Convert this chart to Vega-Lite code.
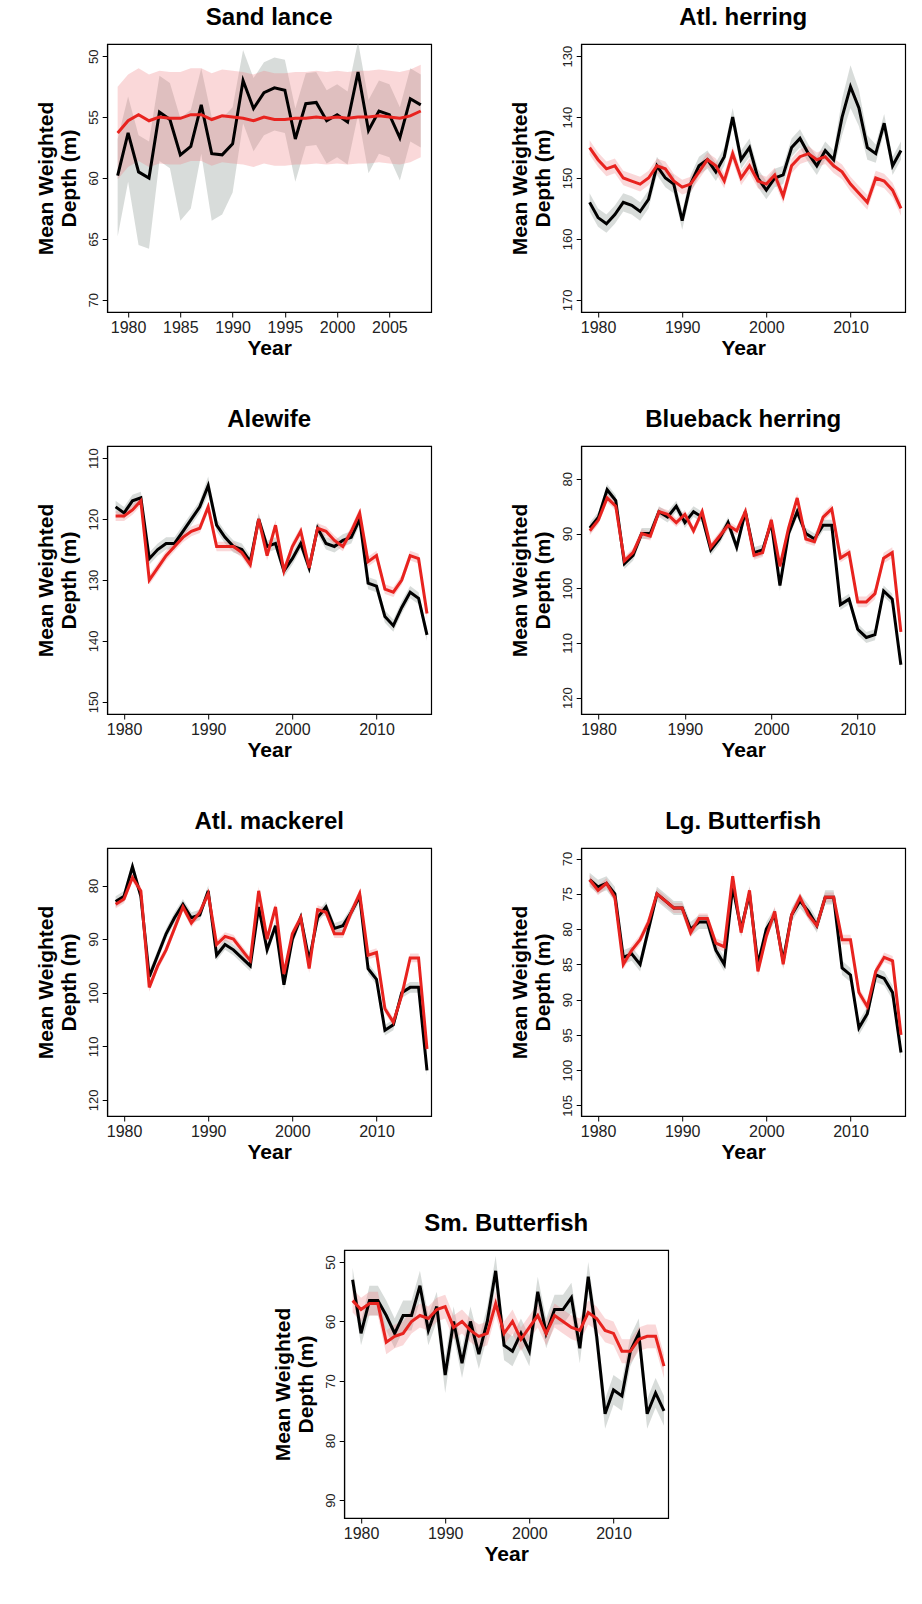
{
  "$schema": "https://vega.github.io/schema/vega-lite/v6.json",
  "padding": {"left": 34, "top": 5, "right": 5, "bottom": 5},
  "datasets": {
    "d": [
      {"s":"SL","y":1979,"b":59.8,"bl":56.8,"bh":64.8,"r":56.3,"rl":52.5,"rh":60.1},
      {"s":"SL","y":1980,"b":56.3,"bl":53.3,"bh":60.3,"r":55.3,"rl":51.5,"rh":59.1},
      {"s":"SL","y":1981,"b":59.5,"bl":56.5,"bh":65.5,"r":54.8,"rl":51,"rh":58.6},
      {"s":"SL","y":1982,"b":60,"bl":57,"bh":65.8,"r":55.3,"rl":51.5,"rh":59.1},
      {"s":"SL","y":1983,"b":54.6,"bl":51.6,"bh":58.6,"r":55,"rl":51.2,"rh":58.8},
      {"s":"SL","y":1984,"b":55.2,"bl":52.2,"bh":59.2,"r":55.1,"rl":51.3,"rh":58.9},
      {"s":"SL","y":1985,"b":58.1,"bl":55.1,"bh":63.5,"r":55.1,"rl":51.3,"rh":58.9},
      {"s":"SL","y":1986,"b":57.4,"bl":54.4,"bh":62.5,"r":54.8,"rl":51,"rh":58.6},
      {"s":"SL","y":1987,"b":54,"bl":51,"bh":58,"r":54.8,"rl":51,"rh":58.6},
      {"s":"SL","y":1988,"b":58,"bl":55,"bh":63.5,"r":55.2,"rl":51.4,"rh":59},
      {"s":"SL","y":1989,"b":58.1,"bl":55.1,"bh":63,"r":54.9,"rl":51.1,"rh":58.7},
      {"s":"SL","y":1990,"b":57.2,"bl":54.2,"bh":61.2,"r":55,"rl":51.2,"rh":58.8},
      {"s":"SL","y":1991,"b":52,"bl":49.5,"bh":55.5,"r":55.1,"rl":51.3,"rh":58.9},
      {"s":"SL","y":1992,"b":54.3,"bl":51.8,"bh":57.8,"r":55.3,"rl":51.5,"rh":59.1},
      {"s":"SL","y":1993,"b":53,"bl":50.5,"bh":56.5,"r":55,"rl":51.2,"rh":58.8},
      {"s":"SL","y":1994,"b":52.6,"bl":50.1,"bh":56.1,"r":55.2,"rl":51.4,"rh":59},
      {"s":"SL","y":1995,"b":52.8,"bl":50.3,"bh":56.3,"r":55.2,"rl":51.4,"rh":59},
      {"s":"SL","y":1996,"b":56.8,"bl":54.3,"bh":60.3,"r":55.1,"rl":51.3,"rh":58.9},
      {"s":"SL","y":1997,"b":53.9,"bl":51.4,"bh":57.4,"r":55.1,"rl":51.3,"rh":58.9},
      {"s":"SL","y":1998,"b":53.8,"bl":51.3,"bh":57.3,"r":55,"rl":51.2,"rh":58.8},
      {"s":"SL","y":1999,"b":55.3,"bl":52.8,"bh":58.8,"r":55.1,"rl":51.3,"rh":58.9},
      {"s":"SL","y":2000,"b":54.8,"bl":52.3,"bh":58.3,"r":55,"rl":51.2,"rh":58.8},
      {"s":"SL","y":2001,"b":55.4,"bl":52.9,"bh":58.9,"r":55.1,"rl":51.3,"rh":58.9},
      {"s":"SL","y":2002,"b":51.3,"bl":48.8,"bh":54.8,"r":55,"rl":51.2,"rh":58.8},
      {"s":"SL","y":2003,"b":56.1,"bl":53.6,"bh":59.6,"r":55,"rl":51.2,"rh":58.8},
      {"s":"SL","y":2004,"b":54.5,"bl":52,"bh":58,"r":54.9,"rl":51.1,"rh":58.7},
      {"s":"SL","y":2005,"b":54.8,"bl":52.3,"bh":58.3,"r":55,"rl":51.2,"rh":58.8},
      {"s":"SL","y":2006,"b":56.7,"bl":54.2,"bh":60.2,"r":55.1,"rl":51.3,"rh":58.9},
      {"s":"SL","y":2007,"b":53.5,"bl":51,"bh":57,"r":54.9,"rl":51.1,"rh":58.7},
      {"s":"SL","y":2008,"b":54,"bl":51.5,"bh":57.5,"r":54.5,"rl":50.7,"rh":58.3},

      {"s":"AH","y":1979,"b":154,"bl":152.5,"bh":155.5,"r":145,"rl":143.8,"rh":146.2},
      {"s":"AH","y":1980,"b":156.5,"bl":155,"bh":158,"r":147,"rl":145.8,"rh":148.2},
      {"s":"AH","y":1981,"b":157.5,"bl":156,"bh":159,"r":148.5,"rl":147.3,"rh":149.7},
      {"s":"AH","y":1982,"b":156,"bl":154.5,"bh":157.5,"r":148,"rl":146.8,"rh":149.2},
      {"s":"AH","y":1983,"b":154,"bl":152.5,"bh":155.5,"r":150,"rl":148.8,"rh":151.2},
      {"s":"AH","y":1984,"b":154.5,"bl":153,"bh":156,"r":150.5,"rl":149.3,"rh":151.7},
      {"s":"AH","y":1985,"b":155.5,"bl":154,"bh":157,"r":151,"rl":149.8,"rh":152.2},
      {"s":"AH","y":1986,"b":153.5,"bl":152,"bh":155,"r":150,"rl":148.8,"rh":151.2},
      {"s":"AH","y":1987,"b":148,"bl":146.5,"bh":149.5,"r":148,"rl":146.8,"rh":149.2},
      {"s":"AH","y":1988,"b":150,"bl":148.5,"bh":151.5,"r":148.5,"rl":147.3,"rh":149.7},
      {"s":"AH","y":1989,"b":151,"bl":149.5,"bh":152.5,"r":150.5,"rl":149.3,"rh":151.7},
      {"s":"AH","y":1990,"b":157,"bl":155.5,"bh":158.5,"r":151.5,"rl":150.3,"rh":152.7},
      {"s":"AH","y":1991,"b":151,"bl":149.5,"bh":152.5,"r":151,"rl":149.8,"rh":152.2},
      {"s":"AH","y":1992,"b":148,"bl":146.5,"bh":149.5,"r":149,"rl":147.8,"rh":150.2},
      {"s":"AH","y":1993,"b":147,"bl":145.5,"bh":148.5,"r":147,"rl":145.8,"rh":148.2},
      {"s":"AH","y":1994,"b":149,"bl":147.5,"bh":150.5,"r":148,"rl":146.8,"rh":149.2},
      {"s":"AH","y":1995,"b":146.5,"bl":145,"bh":148,"r":150.5,"rl":149.3,"rh":151.7},
      {"s":"AH","y":1996,"b":140,"bl":138.5,"bh":141.5,"r":146,"rl":144.8,"rh":147.2},
      {"s":"AH","y":1997,"b":147,"bl":145.5,"bh":148.5,"r":150,"rl":148.8,"rh":151.2},
      {"s":"AH","y":1998,"b":145,"bl":143.5,"bh":146.5,"r":148,"rl":146.8,"rh":149.2},
      {"s":"AH","y":1999,"b":150,"bl":148.5,"bh":151.5,"r":150.5,"rl":149.3,"rh":151.7},
      {"s":"AH","y":2000,"b":152,"bl":150.5,"bh":153.5,"r":151,"rl":149.8,"rh":152.2},
      {"s":"AH","y":2001,"b":150,"bl":148.5,"bh":151.5,"r":149.5,"rl":148.3,"rh":150.7},
      {"s":"AH","y":2002,"b":149.5,"bl":148,"bh":151,"r":153,"rl":151.8,"rh":154.2},
      {"s":"AH","y":2003,"b":145,"bl":143.5,"bh":146.5,"r":148,"rl":146.8,"rh":149.2},
      {"s":"AH","y":2004,"b":143.5,"bl":142,"bh":145,"r":146.5,"rl":145.3,"rh":147.7},
      {"s":"AH","y":2005,"b":146,"bl":144.5,"bh":147.5,"r":146,"rl":144.8,"rh":147.2},
      {"s":"AH","y":2006,"b":148,"bl":146.5,"bh":149.5,"r":147,"rl":145.8,"rh":148.2},
      {"s":"AH","y":2007,"b":145.5,"bl":144,"bh":147,"r":146.5,"rl":145.3,"rh":147.7},
      {"s":"AH","y":2008,"b":147,"bl":145.5,"bh":148.5,"r":148,"rl":146.8,"rh":149.2},
      {"s":"AH","y":2009,"b":140,"bl":137,"bh":143,"r":149,"rl":147.8,"rh":150.2},
      {"s":"AH","y":2010,"b":135,"bl":131.5,"bh":138.5,"r":151,"rl":149.8,"rh":152.2},
      {"s":"AH","y":2011,"b":138.5,"bl":135.5,"bh":141.5,"r":152.5,"rl":151.3,"rh":153.7},
      {"s":"AH","y":2012,"b":145,"bl":143,"bh":147,"r":154,"rl":152.8,"rh":155.2},
      {"s":"AH","y":2013,"b":146,"bl":144.5,"bh":147.5,"r":150,"rl":148.8,"rh":151.2},
      {"s":"AH","y":2014,"b":141,"bl":139.5,"bh":142.5,"r":150.5,"rl":149.3,"rh":151.7},
      {"s":"AH","y":2015,"b":148,"bl":146.5,"bh":149.5,"r":152,"rl":150.8,"rh":153.2},
      {"s":"AH","y":2016,"b":145.5,"bl":144,"bh":147,"r":155,"rl":153.8,"rh":156.2},

      {"s":"AL","y":1979,"b":118,"bl":117,"bh":119,"r":119.5,"rl":118.7,"rh":120.3},
      {"s":"AL","y":1980,"b":119,"bl":118,"bh":120,"r":119.5,"rl":118.7,"rh":120.3},
      {"s":"AL","y":1981,"b":117,"bl":116,"bh":118,"r":118.5,"rl":117.7,"rh":119.3},
      {"s":"AL","y":1982,"b":116.5,"bl":115.5,"bh":117.5,"r":117,"rl":116.2,"rh":117.8},
      {"s":"AL","y":1983,"b":126.5,"bl":125.5,"bh":127.5,"r":130,"rl":129.2,"rh":130.8},
      {"s":"AL","y":1984,"b":125,"bl":124,"bh":126,"r":128,"rl":127.2,"rh":128.8},
      {"s":"AL","y":1985,"b":124,"bl":123,"bh":125,"r":126,"rl":125.2,"rh":126.8},
      {"s":"AL","y":1986,"b":124,"bl":123,"bh":125,"r":124.5,"rl":123.7,"rh":125.3},
      {"s":"AL","y":1987,"b":122,"bl":121,"bh":123,"r":123,"rl":122.2,"rh":123.8},
      {"s":"AL","y":1988,"b":120,"bl":119,"bh":121,"r":122,"rl":121.2,"rh":122.8},
      {"s":"AL","y":1989,"b":118,"bl":117,"bh":119,"r":121.5,"rl":120.7,"rh":122.3},
      {"s":"AL","y":1990,"b":114.5,"bl":113,"bh":116,"r":118,"rl":117.2,"rh":118.8},
      {"s":"AL","y":1991,"b":121,"bl":120,"bh":122,"r":124.5,"rl":123.7,"rh":125.3},
      {"s":"AL","y":1992,"b":123,"bl":122,"bh":124,"r":124.5,"rl":123.7,"rh":125.3},
      {"s":"AL","y":1993,"b":124.5,"bl":123.5,"bh":125.5,"r":124.5,"rl":123.7,"rh":125.3},
      {"s":"AL","y":1994,"b":125,"bl":124,"bh":126,"r":125.5,"rl":124.7,"rh":126.3},
      {"s":"AL","y":1995,"b":127,"bl":126,"bh":128,"r":127.5,"rl":126.7,"rh":128.3},
      {"s":"AL","y":1996,"b":120,"bl":119,"bh":121,"r":120,"rl":119.2,"rh":120.8},
      {"s":"AL","y":1997,"b":124.5,"bl":123.5,"bh":125.5,"r":126,"rl":125.2,"rh":126.8},
      {"s":"AL","y":1998,"b":124,"bl":123,"bh":125,"r":121,"rl":120.2,"rh":121.8},
      {"s":"AL","y":1999,"b":128.5,"bl":127.5,"bh":129.5,"r":128.5,"rl":127.7,"rh":129.3},
      {"s":"AL","y":2000,"b":126.5,"bl":125.5,"bh":127.5,"r":124.5,"rl":123.7,"rh":125.3},
      {"s":"AL","y":2001,"b":124,"bl":123,"bh":125,"r":122,"rl":121.2,"rh":122.8},
      {"s":"AL","y":2002,"b":128,"bl":127,"bh":129,"r":128,"rl":127.2,"rh":128.8},
      {"s":"AL","y":2003,"b":121.5,"bl":120.5,"bh":122.5,"r":121.5,"rl":120.7,"rh":122.3},
      {"s":"AL","y":2004,"b":124,"bl":123,"bh":125,"r":122,"rl":121.2,"rh":122.8},
      {"s":"AL","y":2005,"b":124.5,"bl":123.5,"bh":125.5,"r":123.5,"rl":122.7,"rh":124.3},
      {"s":"AL","y":2006,"b":123.5,"bl":122.5,"bh":124.5,"r":124.5,"rl":123.7,"rh":125.3},
      {"s":"AL","y":2007,"b":123,"bl":122,"bh":124,"r":122,"rl":121.2,"rh":122.8},
      {"s":"AL","y":2008,"b":120,"bl":119,"bh":121,"r":119,"rl":118.2,"rh":119.8},
      {"s":"AL","y":2009,"b":130.5,"bl":129.5,"bh":131.5,"r":127,"rl":126.2,"rh":127.8},
      {"s":"AL","y":2010,"b":131,"bl":130,"bh":132,"r":126,"rl":125.2,"rh":126.8},
      {"s":"AL","y":2011,"b":136,"bl":135,"bh":137,"r":131.5,"rl":130.7,"rh":132.3},
      {"s":"AL","y":2012,"b":137.5,"bl":136.5,"bh":138.5,"r":132,"rl":131.2,"rh":132.8},
      {"s":"AL","y":2013,"b":134.5,"bl":133.5,"bh":135.5,"r":130,"rl":129.2,"rh":130.8},
      {"s":"AL","y":2014,"b":132,"bl":131,"bh":133,"r":126,"rl":125.2,"rh":126.8},
      {"s":"AL","y":2015,"b":133,"bl":132,"bh":134,"r":126.5,"rl":125.7,"rh":127.3},
      {"s":"AL","y":2016,"b":139,"bl":138,"bh":140,"r":135.5,"rl":134.7,"rh":136.3},

      {"s":"BH","y":1979,"b":89,"bl":88,"bh":90,"r":89.5,"rl":88.7,"rh":90.3},
      {"s":"BH","y":1980,"b":87,"bl":86,"bh":88,"r":87.5,"rl":86.7,"rh":88.3},
      {"s":"BH","y":1981,"b":82,"bl":81,"bh":83,"r":83.5,"rl":82.7,"rh":84.3},
      {"s":"BH","y":1982,"b":84,"bl":83,"bh":85,"r":85,"rl":84.2,"rh":85.8},
      {"s":"BH","y":1983,"b":95.5,"bl":94.5,"bh":96.5,"r":95,"rl":94.2,"rh":95.8},
      {"s":"BH","y":1984,"b":94,"bl":93,"bh":95,"r":93.5,"rl":92.7,"rh":94.3},
      {"s":"BH","y":1985,"b":90,"bl":89,"bh":91,"r":90,"rl":89.2,"rh":90.8},
      {"s":"BH","y":1986,"b":90,"bl":89,"bh":91,"r":90.5,"rl":89.7,"rh":91.3},
      {"s":"BH","y":1987,"b":86,"bl":85,"bh":87,"r":86,"rl":85.2,"rh":86.8},
      {"s":"BH","y":1988,"b":87,"bl":86,"bh":88,"r":86.5,"rl":85.7,"rh":87.3},
      {"s":"BH","y":1989,"b":85,"bl":84,"bh":86,"r":88,"rl":87.2,"rh":88.8},
      {"s":"BH","y":1990,"b":88,"bl":87,"bh":89,"r":86.5,"rl":85.7,"rh":87.3},
      {"s":"BH","y":1991,"b":86,"bl":85,"bh":87,"r":89.5,"rl":88.7,"rh":90.3},
      {"s":"BH","y":1992,"b":87,"bl":86,"bh":88,"r":86,"rl":85.2,"rh":86.8},
      {"s":"BH","y":1993,"b":93,"bl":92,"bh":94,"r":92.5,"rl":91.7,"rh":93.3},
      {"s":"BH","y":1994,"b":91,"bl":90,"bh":92,"r":90.5,"rl":89.7,"rh":91.3},
      {"s":"BH","y":1995,"b":88,"bl":87,"bh":89,"r":88.5,"rl":87.7,"rh":89.3},
      {"s":"BH","y":1996,"b":92.5,"bl":91.5,"bh":93.5,"r":89.5,"rl":88.7,"rh":90.3},
      {"s":"BH","y":1997,"b":86,"bl":85,"bh":87,"r":86,"rl":85.2,"rh":86.8},
      {"s":"BH","y":1998,"b":93.5,"bl":92.5,"bh":94.5,"r":94,"rl":93.2,"rh":94.8},
      {"s":"BH","y":1999,"b":93,"bl":92,"bh":94,"r":93.5,"rl":92.7,"rh":94.3},
      {"s":"BH","y":2000,"b":88,"bl":87,"bh":89,"r":87.5,"rl":86.7,"rh":88.3},
      {"s":"BH","y":2001,"b":99.5,"bl":98.5,"bh":100.5,"r":96,"rl":95.2,"rh":96.8},
      {"s":"BH","y":2002,"b":90,"bl":89,"bh":91,"r":89,"rl":88.2,"rh":89.8},
      {"s":"BH","y":2003,"b":86,"bl":85,"bh":87,"r":83.5,"rl":82.7,"rh":84.3},
      {"s":"BH","y":2004,"b":90,"bl":89,"bh":91,"r":91,"rl":90.2,"rh":91.8},
      {"s":"BH","y":2005,"b":91,"bl":90,"bh":92,"r":91.5,"rl":90.7,"rh":92.3},
      {"s":"BH","y":2006,"b":88.5,"bl":87.5,"bh":89.5,"r":87,"rl":86.2,"rh":87.8},
      {"s":"BH","y":2007,"b":88.5,"bl":87.5,"bh":89.5,"r":85.5,"rl":84.7,"rh":86.3},
      {"s":"BH","y":2008,"b":103,"bl":102,"bh":104,"r":94.5,"rl":93.7,"rh":95.3},
      {"s":"BH","y":2009,"b":102,"bl":101,"bh":103,"r":93.5,"rl":92.7,"rh":94.3},
      {"s":"BH","y":2010,"b":107.5,"bl":106.5,"bh":108.5,"r":102.5,"rl":101.5,"rh":103.5},
      {"s":"BH","y":2011,"b":109,"bl":108,"bh":110,"r":102.5,"rl":101.5,"rh":103.5},
      {"s":"BH","y":2012,"b":108.5,"bl":107.5,"bh":109.5,"r":101,"rl":100,"rh":102},
      {"s":"BH","y":2013,"b":100.5,"bl":99.5,"bh":101.5,"r":94.5,"rl":93.5,"rh":95.5},
      {"s":"BH","y":2014,"b":102,"bl":101,"bh":103,"r":93.5,"rl":92.5,"rh":94.5},
      {"s":"BH","y":2015,"b":114,"bl":113,"bh":115,"r":108,"rl":107,"rh":109},

      {"s":"AM","y":1979,"b":83,"bl":82,"bh":84,"r":83.5,"rl":82.7,"rh":84.3},
      {"s":"AM","y":1980,"b":82,"bl":81,"bh":83,"r":82.5,"rl":81.7,"rh":83.3},
      {"s":"AM","y":1981,"b":76.5,"bl":75.5,"bh":77.5,"r":78.5,"rl":77.7,"rh":79.3},
      {"s":"AM","y":1982,"b":82,"bl":81,"bh":83,"r":81,"rl":80.2,"rh":81.8},
      {"s":"AM","y":1983,"b":97,"bl":96,"bh":98,"r":99,"rl":98.2,"rh":99.8},
      {"s":"AM","y":1984,"b":93,"bl":92,"bh":94,"r":95,"rl":94.2,"rh":95.8},
      {"s":"AM","y":1985,"b":89,"bl":88,"bh":90,"r":92,"rl":91.2,"rh":92.8},
      {"s":"AM","y":1986,"b":86,"bl":85,"bh":87,"r":88,"rl":87.2,"rh":88.8},
      {"s":"AM","y":1987,"b":83.5,"bl":82.5,"bh":84.5,"r":84,"rl":83.2,"rh":84.8},
      {"s":"AM","y":1988,"b":86,"bl":85,"bh":87,"r":87,"rl":86.2,"rh":87.8},
      {"s":"AM","y":1989,"b":85.5,"bl":84.5,"bh":86.5,"r":85,"rl":84.2,"rh":85.8},
      {"s":"AM","y":1990,"b":81,"bl":80,"bh":82,"r":81.5,"rl":80.7,"rh":82.3},
      {"s":"AM","y":1991,"b":93,"bl":92,"bh":94,"r":91,"rl":90.2,"rh":91.8},
      {"s":"AM","y":1992,"b":91,"bl":90,"bh":92,"r":89.5,"rl":88.7,"rh":90.3},
      {"s":"AM","y":1993,"b":92,"bl":91,"bh":93,"r":90,"rl":89.2,"rh":90.8},
      {"s":"AM","y":1994,"b":93.5,"bl":92.5,"bh":94.5,"r":92,"rl":91.2,"rh":92.8},
      {"s":"AM","y":1995,"b":95,"bl":94,"bh":96,"r":94,"rl":93.2,"rh":94.8},
      {"s":"AM","y":1996,"b":84,"bl":83,"bh":85,"r":81,"rl":80.2,"rh":81.8},
      {"s":"AM","y":1997,"b":92,"bl":91,"bh":93,"r":90,"rl":89.2,"rh":90.8},
      {"s":"AM","y":1998,"b":87.5,"bl":86.5,"bh":88.5,"r":84,"rl":83.2,"rh":84.8},
      {"s":"AM","y":1999,"b":98.5,"bl":97.5,"bh":99.5,"r":96.5,"rl":95.7,"rh":97.3},
      {"s":"AM","y":2000,"b":90,"bl":89,"bh":91,"r":89,"rl":88.2,"rh":89.8},
      {"s":"AM","y":2001,"b":86,"bl":85,"bh":87,"r":86,"rl":85.2,"rh":86.8},
      {"s":"AM","y":2002,"b":94,"bl":93,"bh":95,"r":95.5,"rl":94.7,"rh":96.3},
      {"s":"AM","y":2003,"b":86,"bl":85,"bh":87,"r":84.5,"rl":83.7,"rh":85.3},
      {"s":"AM","y":2004,"b":84,"bl":83,"bh":85,"r":85,"rl":84.2,"rh":85.8},
      {"s":"AM","y":2005,"b":88,"bl":87,"bh":89,"r":89,"rl":88.2,"rh":89.8},
      {"s":"AM","y":2006,"b":87.5,"bl":86.5,"bh":88.5,"r":89,"rl":88.2,"rh":89.8},
      {"s":"AM","y":2007,"b":85,"bl":84,"bh":86,"r":85,"rl":84.2,"rh":85.8},
      {"s":"AM","y":2008,"b":82,"bl":81,"bh":83,"r":81.5,"rl":80.7,"rh":82.3},
      {"s":"AM","y":2009,"b":95.5,"bl":94.5,"bh":96.5,"r":93,"rl":92.2,"rh":93.8},
      {"s":"AM","y":2010,"b":97.5,"bl":96.5,"bh":98.5,"r":92.5,"rl":91.7,"rh":93.3},
      {"s":"AM","y":2011,"b":107,"bl":106,"bh":108,"r":103,"rl":102.2,"rh":103.8},
      {"s":"AM","y":2012,"b":106,"bl":105,"bh":107,"r":105.5,"rl":104.7,"rh":106.3},
      {"s":"AM","y":2013,"b":100,"bl":99,"bh":101,"r":100.5,"rl":99.7,"rh":101.3},
      {"s":"AM","y":2014,"b":99,"bl":98,"bh":100,"r":93.5,"rl":92.7,"rh":94.3},
      {"s":"AM","y":2015,"b":99,"bl":98,"bh":100,"r":93.5,"rl":92.7,"rh":94.3},
      {"s":"AM","y":2016,"b":114.5,"bl":113.5,"bh":115.5,"r":110.5,"rl":109.7,"rh":111.3},

      {"s":"LB","y":1979,"b":73,"bl":72,"bh":74,"r":73,"rl":72.3,"rh":73.7},
      {"s":"LB","y":1980,"b":74,"bl":73,"bh":75,"r":74.5,"rl":73.8,"rh":75.2},
      {"s":"LB","y":1981,"b":73.5,"bl":72.5,"bh":74.5,"r":73.5,"rl":72.8,"rh":74.2},
      {"s":"LB","y":1982,"b":75,"bl":74,"bh":76,"r":75.5,"rl":74.8,"rh":76.2},
      {"s":"LB","y":1983,"b":84,"bl":83,"bh":85,"r":85,"rl":84.3,"rh":85.7},
      {"s":"LB","y":1984,"b":83.5,"bl":82.5,"bh":84.5,"r":83,"rl":82.3,"rh":83.7},
      {"s":"LB","y":1985,"b":85,"bl":84,"bh":86,"r":81.5,"rl":80.8,"rh":82.2},
      {"s":"LB","y":1986,"b":80,"bl":79,"bh":81,"r":79,"rl":78.3,"rh":79.7},
      {"s":"LB","y":1987,"b":75,"bl":74,"bh":76,"r":75,"rl":74.3,"rh":75.7},
      {"s":"LB","y":1988,"b":76,"bl":75,"bh":77,"r":76,"rl":75.3,"rh":76.7},
      {"s":"LB","y":1989,"b":77,"bl":76,"bh":78,"r":77,"rl":76.3,"rh":77.7},
      {"s":"LB","y":1990,"b":77,"bl":76,"bh":78,"r":77,"rl":76.3,"rh":77.7},
      {"s":"LB","y":1991,"b":80,"bl":79,"bh":81,"r":80.5,"rl":79.8,"rh":81.2},
      {"s":"LB","y":1992,"b":79,"bl":78,"bh":80,"r":78.5,"rl":77.8,"rh":79.2},
      {"s":"LB","y":1993,"b":79,"bl":78,"bh":80,"r":78.5,"rl":77.8,"rh":79.2},
      {"s":"LB","y":1994,"b":83,"bl":82,"bh":84,"r":82,"rl":81.3,"rh":82.7},
      {"s":"LB","y":1995,"b":85,"bl":84,"bh":86,"r":82.5,"rl":81.8,"rh":83.2},
      {"s":"LB","y":1996,"b":74,"bl":73,"bh":75,"r":72.5,"rl":71.8,"rh":73.2},
      {"s":"LB","y":1997,"b":80,"bl":79,"bh":81,"r":80.5,"rl":79.8,"rh":81.2},
      {"s":"LB","y":1998,"b":75,"bl":74,"bh":76,"r":74.5,"rl":73.8,"rh":75.2},
      {"s":"LB","y":1999,"b":85,"bl":84,"bh":86,"r":86,"rl":85.3,"rh":86.7},
      {"s":"LB","y":2000,"b":80,"bl":79,"bh":81,"r":81,"rl":80.3,"rh":81.7},
      {"s":"LB","y":2001,"b":78,"bl":77,"bh":79,"r":77.5,"rl":76.8,"rh":78.2},
      {"s":"LB","y":2002,"b":84.5,"bl":83.5,"bh":85.5,"r":85,"rl":84.3,"rh":85.7},
      {"s":"LB","y":2003,"b":78,"bl":77,"bh":79,"r":78,"rl":77.3,"rh":78.7},
      {"s":"LB","y":2004,"b":76,"bl":75,"bh":77,"r":75.5,"rl":74.8,"rh":76.2},
      {"s":"LB","y":2005,"b":77.5,"bl":76.5,"bh":78.5,"r":78,"rl":77.3,"rh":78.7},
      {"s":"LB","y":2006,"b":79.5,"bl":78.5,"bh":80.5,"r":79.5,"rl":78.8,"rh":80.2},
      {"s":"LB","y":2007,"b":75.5,"bl":74.5,"bh":76.5,"r":75.5,"rl":74.8,"rh":76.2},
      {"s":"LB","y":2008,"b":75.5,"bl":74.5,"bh":76.5,"r":75.5,"rl":74.8,"rh":76.2},
      {"s":"LB","y":2009,"b":85.5,"bl":84.5,"bh":86.5,"r":81.5,"rl":80.8,"rh":82.2},
      {"s":"LB","y":2010,"b":86.5,"bl":85.5,"bh":87.5,"r":81.5,"rl":80.8,"rh":82.2},
      {"s":"LB","y":2011,"b":94,"bl":93,"bh":95,"r":89,"rl":88.3,"rh":89.7},
      {"s":"LB","y":2012,"b":92,"bl":91,"bh":93,"r":91,"rl":90.3,"rh":91.7},
      {"s":"LB","y":2013,"b":86.5,"bl":85.5,"bh":87.5,"r":86,"rl":85.3,"rh":86.7},
      {"s":"LB","y":2014,"b":87,"bl":86,"bh":88,"r":84,"rl":83.3,"rh":84.7},
      {"s":"LB","y":2015,"b":89,"bl":88,"bh":90,"r":84.5,"rl":83.8,"rh":85.2},
      {"s":"LB","y":2016,"b":97.5,"bl":96.5,"bh":98.5,"r":95,"rl":94.3,"rh":95.7},

      {"s":"SB","y":1979,"b":53,"bl":51,"bh":55,"r":56.5,"rl":54.5,"rh":58.5},
      {"s":"SB","y":1980,"b":62,"bl":60,"bh":64,"r":58,"rl":56,"rh":60},
      {"s":"SB","y":1981,"b":56.5,"bl":54,"bh":59,"r":57,"rl":55,"rh":59},
      {"s":"SB","y":1982,"b":56.5,"bl":54,"bh":59,"r":57,"rl":55,"rh":59},
      {"s":"SB","y":1983,"b":59,"bl":56.5,"bh":61.5,"r":63.5,"rl":61.5,"rh":65.5},
      {"s":"SB","y":1984,"b":62,"bl":59.5,"bh":64.5,"r":62.5,"rl":60.5,"rh":64.5},
      {"s":"SB","y":1985,"b":59,"bl":56.5,"bh":61.5,"r":62,"rl":60,"rh":64},
      {"s":"SB","y":1986,"b":59,"bl":56.5,"bh":61.5,"r":60,"rl":58,"rh":62},
      {"s":"SB","y":1987,"b":54,"bl":51.5,"bh":56.5,"r":59,"rl":57,"rh":61},
      {"s":"SB","y":1988,"b":61.5,"bl":59,"bh":64,"r":59.5,"rl":57.5,"rh":61.5},
      {"s":"SB","y":1989,"b":57.5,"bl":55,"bh":60,"r":58,"rl":56,"rh":60},
      {"s":"SB","y":1990,"b":69,"bl":66,"bh":72,"r":57.5,"rl":55.5,"rh":59.5},
      {"s":"SB","y":1991,"b":60,"bl":57.5,"bh":62.5,"r":61,"rl":59,"rh":63},
      {"s":"SB","y":1992,"b":67,"bl":64.5,"bh":69.5,"r":60,"rl":58,"rh":62},
      {"s":"SB","y":1993,"b":60,"bl":57.5,"bh":62.5,"r":61.5,"rl":59.5,"rh":63.5},
      {"s":"SB","y":1994,"b":65.5,"bl":63,"bh":68,"r":62.5,"rl":60.5,"rh":64.5},
      {"s":"SB","y":1995,"b":60,"bl":57.5,"bh":62.5,"r":62,"rl":60,"rh":64},
      {"s":"SB","y":1996,"b":51.5,"bl":49,"bh":54,"r":57,"rl":55,"rh":59},
      {"s":"SB","y":1997,"b":64,"bl":61.5,"bh":66.5,"r":62,"rl":60,"rh":64},
      {"s":"SB","y":1998,"b":65,"bl":62.5,"bh":67.5,"r":60,"rl":58,"rh":62},
      {"s":"SB","y":1999,"b":62,"bl":59.5,"bh":64.5,"r":63,"rl":61,"rh":65},
      {"s":"SB","y":2000,"b":65,"bl":62.5,"bh":67.5,"r":61,"rl":59,"rh":63},
      {"s":"SB","y":2001,"b":55,"bl":52.5,"bh":57.5,"r":59,"rl":57,"rh":61},
      {"s":"SB","y":2002,"b":62,"bl":59.5,"bh":64.5,"r":62,"rl":60,"rh":64},
      {"s":"SB","y":2003,"b":58,"bl":55.5,"bh":60.5,"r":59,"rl":57,"rh":61},
      {"s":"SB","y":2004,"b":58,"bl":55.5,"bh":60.5,"r":60,"rl":58,"rh":62},
      {"s":"SB","y":2005,"b":56,"bl":53.5,"bh":58.5,"r":61,"rl":59,"rh":63},
      {"s":"SB","y":2006,"b":64.5,"bl":62,"bh":67,"r":61.5,"rl":59.5,"rh":63.5},
      {"s":"SB","y":2007,"b":52.5,"bl":50,"bh":55,"r":58.5,"rl":56.5,"rh":60.5},
      {"s":"SB","y":2008,"b":62.5,"bl":60,"bh":65,"r":59.5,"rl":57.5,"rh":61.5},
      {"s":"SB","y":2009,"b":75.5,"bl":73,"bh":78,"r":61.5,"rl":59.5,"rh":63.5},
      {"s":"SB","y":2010,"b":71.5,"bl":69,"bh":74,"r":62,"rl":60,"rh":64},
      {"s":"SB","y":2011,"b":72.5,"bl":70,"bh":75,"r":65,"rl":63,"rh":67},
      {"s":"SB","y":2012,"b":65,"bl":62.5,"bh":67.5,"r":65,"rl":63,"rh":67},
      {"s":"SB","y":2013,"b":62,"bl":59.5,"bh":64.5,"r":63,"rl":61,"rh":65},
      {"s":"SB","y":2014,"b":75.5,"bl":73,"bh":78,"r":62.5,"rl":60.5,"rh":64.5},
      {"s":"SB","y":2015,"b":72,"bl":69.5,"bh":74.5,"r":62.5,"rl":60.5,"rh":64.5},
      {"s":"SB","y":2016,"b":75,"bl":72.5,"bh":77.5,"r":67.5,"rl":65.5,"rh":69.5}
    ]
  },
  "data": {"name": "d"},
  "spacing": 48,
  "center": true,
  "vconcat": [
    {"hconcat": [
      {"title": "Sand lance", "width": 324, "height": 268,
       "transform": [{"filter": "datum.s == 'SL'"}],
       "encoding": {"x": {"field": "y", "type": "quantitative", "scale": {"domain": [1978, 2009], "nice": false, "zero": false}, "axis": {"values": [1980, 1985, 1990, 1995, 2000, 2005], "format": "d", "title": "Year"}}},
       "layer": [
         {"mark": {"type": "area", "color": "#8f9a95", "opacity": 0.35, "clip": true}, "encoding": {"y": {"field": "bl", "type": "quantitative", "scale": {"domain": [49, 71], "reverse": true, "nice": false, "zero": false}, "axis": {"values": [50, 55, 60, 65, 70], "title": ["Mean Weighted", "Depth (m)"]}}, "y2": {"field": "bh"}}},
         {"mark": {"type": "area", "color": "#ee7f80", "opacity": 0.3, "clip": true}, "encoding": {"y": {"field": "rl", "type": "quantitative", "title": ["Mean Weighted", "Depth (m)"]}, "y2": {"field": "rh"}}},
         {"mark": {"type": "line", "color": "black", "strokeWidth": 3, "clip": true}, "encoding": {"y": {"field": "b", "type": "quantitative", "title": ["Mean Weighted", "Depth (m)"]}}},
         {"mark": {"type": "line", "color": "#e8231f", "strokeWidth": 3, "clip": true}, "encoding": {"y": {"field": "r", "type": "quantitative", "title": ["Mean Weighted", "Depth (m)"]}}}
       ]},
      {"title": "Atl. herring", "width": 324, "height": 268,
       "transform": [{"filter": "datum.s == 'AH'"}],
       "encoding": {"x": {"field": "y", "type": "quantitative", "scale": {"domain": [1978, 2016.5], "nice": false, "zero": false}, "axis": {"values": [1980, 1990, 2000, 2010], "format": "d", "title": "Year"}}},
       "layer": [
         {"mark": {"type": "area", "color": "#8f9a95", "opacity": 0.35, "clip": true}, "encoding": {"y": {"field": "bl", "type": "quantitative", "scale": {"domain": [128, 172], "reverse": true, "nice": false, "zero": false}, "axis": {"values": [130, 140, 150, 160, 170], "title": ["Mean Weighted", "Depth (m)"]}}, "y2": {"field": "bh"}}},
         {"mark": {"type": "area", "color": "#ee7f80", "opacity": 0.3, "clip": true}, "encoding": {"y": {"field": "rl", "type": "quantitative", "title": ["Mean Weighted", "Depth (m)"]}, "y2": {"field": "rh"}}},
         {"mark": {"type": "line", "color": "black", "strokeWidth": 3, "clip": true}, "encoding": {"y": {"field": "b", "type": "quantitative", "title": ["Mean Weighted", "Depth (m)"]}}},
         {"mark": {"type": "line", "color": "#e8231f", "strokeWidth": 3, "clip": true}, "encoding": {"y": {"field": "r", "type": "quantitative", "title": ["Mean Weighted", "Depth (m)"]}}}
       ]}
    ]},
    {"hconcat": [
      {"title": "Alewife", "width": 324, "height": 268,
       "transform": [{"filter": "datum.s == 'AL'"}],
       "encoding": {"x": {"field": "y", "type": "quantitative", "scale": {"domain": [1978, 2016.5], "nice": false, "zero": false}, "axis": {"values": [1980, 1990, 2000, 2010], "format": "d", "title": "Year"}}},
       "layer": [
         {"mark": {"type": "area", "color": "#8f9a95", "opacity": 0.35, "clip": true}, "encoding": {"y": {"field": "bl", "type": "quantitative", "scale": {"domain": [108, 152], "reverse": true, "nice": false, "zero": false}, "axis": {"values": [110, 120, 130, 140, 150], "title": ["Mean Weighted", "Depth (m)"]}}, "y2": {"field": "bh"}}},
         {"mark": {"type": "area", "color": "#ee7f80", "opacity": 0.3, "clip": true}, "encoding": {"y": {"field": "rl", "type": "quantitative", "title": ["Mean Weighted", "Depth (m)"]}, "y2": {"field": "rh"}}},
         {"mark": {"type": "line", "color": "black", "strokeWidth": 3, "clip": true}, "encoding": {"y": {"field": "b", "type": "quantitative", "title": ["Mean Weighted", "Depth (m)"]}}},
         {"mark": {"type": "line", "color": "#e8231f", "strokeWidth": 3, "clip": true}, "encoding": {"y": {"field": "r", "type": "quantitative", "title": ["Mean Weighted", "Depth (m)"]}}}
       ]},
      {"title": "Blueback herring", "width": 324, "height": 268,
       "transform": [{"filter": "datum.s == 'BH'"}],
       "encoding": {"x": {"field": "y", "type": "quantitative", "scale": {"domain": [1978, 2015.5], "nice": false, "zero": false}, "axis": {"values": [1980, 1990, 2000, 2010], "format": "d", "title": "Year"}}},
       "layer": [
         {"mark": {"type": "area", "color": "#8f9a95", "opacity": 0.35, "clip": true}, "encoding": {"y": {"field": "bl", "type": "quantitative", "scale": {"domain": [74, 123], "reverse": true, "nice": false, "zero": false}, "axis": {"values": [80, 90, 100, 110, 120], "title": ["Mean Weighted", "Depth (m)"]}}, "y2": {"field": "bh"}}},
         {"mark": {"type": "area", "color": "#ee7f80", "opacity": 0.3, "clip": true}, "encoding": {"y": {"field": "rl", "type": "quantitative", "title": ["Mean Weighted", "Depth (m)"]}, "y2": {"field": "rh"}}},
         {"mark": {"type": "line", "color": "black", "strokeWidth": 3, "clip": true}, "encoding": {"y": {"field": "b", "type": "quantitative", "title": ["Mean Weighted", "Depth (m)"]}}},
         {"mark": {"type": "line", "color": "#e8231f", "strokeWidth": 3, "clip": true}, "encoding": {"y": {"field": "r", "type": "quantitative", "title": ["Mean Weighted", "Depth (m)"]}}}
       ]}
    ]},
    {"hconcat": [
      {"title": "Atl. mackerel", "width": 324, "height": 268,
       "transform": [{"filter": "datum.s == 'AM'"}],
       "encoding": {"x": {"field": "y", "type": "quantitative", "scale": {"domain": [1978, 2016.5], "nice": false, "zero": false}, "axis": {"values": [1980, 1990, 2000, 2010], "format": "d", "title": "Year"}}},
       "layer": [
         {"mark": {"type": "area", "color": "#8f9a95", "opacity": 0.35, "clip": true}, "encoding": {"y": {"field": "bl", "type": "quantitative", "scale": {"domain": [73, 123], "reverse": true, "nice": false, "zero": false}, "axis": {"values": [80, 90, 100, 110, 120], "title": ["Mean Weighted", "Depth (m)"]}}, "y2": {"field": "bh"}}},
         {"mark": {"type": "area", "color": "#ee7f80", "opacity": 0.3, "clip": true}, "encoding": {"y": {"field": "rl", "type": "quantitative", "title": ["Mean Weighted", "Depth (m)"]}, "y2": {"field": "rh"}}},
         {"mark": {"type": "line", "color": "black", "strokeWidth": 3, "clip": true}, "encoding": {"y": {"field": "b", "type": "quantitative", "title": ["Mean Weighted", "Depth (m)"]}}},
         {"mark": {"type": "line", "color": "#e8231f", "strokeWidth": 3, "clip": true}, "encoding": {"y": {"field": "r", "type": "quantitative", "title": ["Mean Weighted", "Depth (m)"]}}}
       ]},
      {"title": "Lg. Butterfish", "width": 324, "height": 268,
       "transform": [{"filter": "datum.s == 'LB'"}],
       "encoding": {"x": {"field": "y", "type": "quantitative", "scale": {"domain": [1978, 2016.5], "nice": false, "zero": false}, "axis": {"values": [1980, 1990, 2000, 2010], "format": "d", "title": "Year"}}},
       "layer": [
         {"mark": {"type": "area", "color": "#8f9a95", "opacity": 0.35, "clip": true}, "encoding": {"y": {"field": "bl", "type": "quantitative", "scale": {"domain": [68.5, 106.5], "reverse": true, "nice": false, "zero": false}, "axis": {"values": [70, 75, 80, 85, 90, 95, 100, 105], "labelOverlap": false, "title": ["Mean Weighted", "Depth (m)"]}}, "y2": {"field": "bh"}}},
         {"mark": {"type": "area", "color": "#ee7f80", "opacity": 0.3, "clip": true}, "encoding": {"y": {"field": "rl", "type": "quantitative", "axis": {"values": [70, 75, 80, 85, 90, 95, 100, 105], "labelOverlap": false, "title": ["Mean Weighted", "Depth (m)"]}}, "y2": {"field": "rh"}}},
         {"mark": {"type": "line", "color": "black", "strokeWidth": 3, "clip": true}, "encoding": {"y": {"field": "b", "type": "quantitative", "axis": {"values": [70, 75, 80, 85, 90, 95, 100, 105], "labelOverlap": false, "title": ["Mean Weighted", "Depth (m)"]}}}},
         {"mark": {"type": "line", "color": "#e8231f", "strokeWidth": 3, "clip": true}, "encoding": {"y": {"field": "r", "type": "quantitative", "axis": {"values": [70, 75, 80, 85, 90, 95, 100, 105], "labelOverlap": false, "title": ["Mean Weighted", "Depth (m)"]}}}}
       ]}
    ]},
    {"title": "Sm. Butterfish", "width": 324, "height": 268,
     "transform": [{"filter": "datum.s == 'SB'"}],
     "encoding": {"x": {"field": "y", "type": "quantitative", "scale": {"domain": [1978, 2016.5], "nice": false, "zero": false}, "axis": {"values": [1980, 1990, 2000, 2010], "format": "d", "title": "Year"}}},
     "layer": [
       {"mark": {"type": "area", "color": "#8f9a95", "opacity": 0.35, "clip": true}, "encoding": {"y": {"field": "bl", "type": "quantitative", "scale": {"domain": [48, 93], "reverse": true, "nice": false, "zero": false}, "axis": {"values": [50, 60, 70, 80, 90], "title": ["Mean Weighted", "Depth (m)"]}}, "y2": {"field": "bh"}}},
       {"mark": {"type": "area", "color": "#ee7f80", "opacity": 0.3, "clip": true}, "encoding": {"y": {"field": "rl", "type": "quantitative", "title": ["Mean Weighted", "Depth (m)"]}, "y2": {"field": "rh"}}},
       {"mark": {"type": "line", "color": "black", "strokeWidth": 3, "clip": true}, "encoding": {"y": {"field": "b", "type": "quantitative", "title": ["Mean Weighted", "Depth (m)"]}}},
       {"mark": {"type": "line", "color": "#e8231f", "strokeWidth": 3, "clip": true}, "encoding": {"y": {"field": "r", "type": "quantitative", "title": ["Mean Weighted", "Depth (m)"]}}}
     ]}
  ],
  "config": {
    "font": "Liberation Sans",
    "view": {"stroke": "black", "strokeWidth": 1.2},
    "concat": {"spacing": 76},
    "title": {"fontSize": 24, "fontWeight": "bold", "color": "black", "offset": 14},
    "axis": {"grid": false, "labelFontSize": 13, "labelColor": "#222", "titleFontSize": 21, "titleFontWeight": "bold", "titleColor": "black", "tickColor": "black", "domainColor": "black", "titlePadding": 2},
    "axisX": {"labelFontSize": 16},
    "axisY": {"labelAngle": -90, "labelAlign": "center", "labelBaseline": "bottom", "labelOverlap": false, "titlePadding": 8}
  }
}
